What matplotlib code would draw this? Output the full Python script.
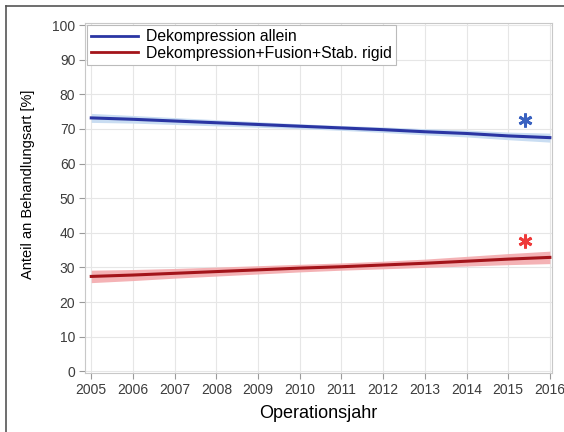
import numpy as np
import matplotlib
matplotlib.use("Agg")
import matplotlib.pyplot as plt
from matplotlib.lines import Line2D

plt.rcParams["font.family"] = ["Liberation Sans", "DejaVu Sans"]

years = [2005, 2006, 2007, 2008, 2009, 2010, 2011, 2012, 2013, 2014, 2015, 2016]

# Dekompression allein
blue = [73.2, 72.8, 72.3, 71.8, 71.3, 70.8, 70.3, 69.8, 69.2, 68.7, 68.0, 67.5]
blue_lo = [71.9, 71.7, 71.3, 70.9, 70.5, 70.1, 69.6, 69.0, 68.3, 67.7, 66.9, 66.2]
blue_hi = [74.5, 73.9, 73.3, 72.7, 72.1, 71.5, 71.0, 70.6, 70.1, 69.7, 69.1, 68.8]

# Dekompression+Fusion+Stab. rigid
red = [27.4, 27.8, 28.3, 28.8, 29.3, 29.8, 30.2, 30.7, 31.2, 31.8, 32.4, 32.9]
red_lo = [25.6, 26.2, 26.9, 27.5, 28.1, 28.7, 29.2, 29.6, 30.0, 30.4, 30.8, 31.1]
red_hi = [29.2, 29.4, 29.7, 30.1, 30.5, 30.9, 31.3, 31.8, 32.4, 33.2, 34.0, 34.7]

star_year = 2015.4
star_blue = 72.6
star_red = 37.6

c_blue = "#2a35a3"
c_red = "#a3141a"

fig = plt.figure(figsize=(5.64, 4.32), dpi=100)
ax = fig.add_axes([0.1507, 0.1366, 0.828, 0.810])

ax.fill_between(years, blue_lo, blue_hi, color="#c9ddf2", lw=0)
ax.fill_between(years, red_lo, red_hi, color="#f3aaad", lw=0, alpha=0.9)
ax.plot(years, blue, color=c_blue, lw=2.2)
ax.plot(years, red, color=c_red, lw=2.2)

# significance markers
ax.plot([star_year], [star_blue], marker=(6, 2, 0), ms=10, mew=2.0,
        color="#3a62c0")
ax.plot([star_year], [star_red], marker=(6, 2, 0), ms=10, mew=2.0,
        color="#ee3b3b")

ax.set_xlim(2004.85, 2016.05)
ax.set_ylim(-0.5, 100.6)
ax.set_xticks(years)
ax.set_yticks(range(0, 101, 10))
ax.grid(True, color="#e6e6e6", lw=0.8)
ax.set_axisbelow(True)
for s in ax.spines.values():
    s.set_color("#c8c8c8")
ax.tick_params(colors="#9a9a9a", labelcolor="#3c3c3c", labelsize=10,
               length=4, pad=3)
ax.set_xlabel("Operationsjahr", fontsize=13, labelpad=6)
ax.set_ylabel("Anteil an Behandlungsart [%]", fontsize=10.5)
ax.yaxis.set_label_coords(-0.107, 0.54)

handles = [Line2D([], [], color=c_blue, lw=2),
           Line2D([], [], color=c_red, lw=2)]
leg = ax.legend(handles, ["Dekompression allein",
                          "Dekompression+Fusion+Stab. rigid"],
                loc="upper left", bbox_to_anchor=(0.0, 1.0), fontsize=11.3,
                handlelength=3.0, handletextpad=0.5, borderpad=0.25,
                labelspacing=0.1, fancybox=False, framealpha=1,
                edgecolor="#bbbbbb", borderaxespad=0.15)
leg.get_frame().set_linewidth(0.8)

# outer frame (left and top edges visible)
fig.add_artist(Line2D([6 / 564, 6 / 564], [0, 1 - 6 / 432],
                      transform=fig.transFigure, color="#555555", lw=1.2))
fig.add_artist(Line2D([6 / 564, 1], [1 - 6 / 432, 1 - 6 / 432],
                      transform=fig.transFigure, color="#555555", lw=1.2))

fig.savefig("out.png", dpi=100)
